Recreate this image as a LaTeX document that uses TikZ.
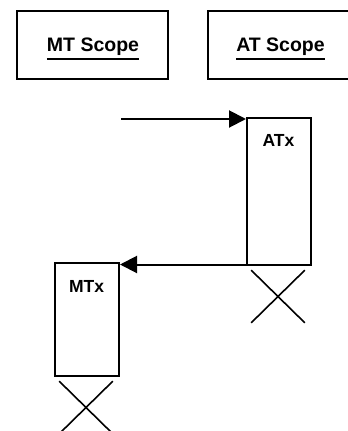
\documentclass[tikz,border=0pt]{standalone}
\usepackage{fontspec}
\setmainfont{Liberation Sans}
\usetikzlibrary{arrows.meta,shapes.misc}
\tikzset{
  scopebox/.style={draw, line width=2pt, minimum width=151pt, minimum height=68pt, inner sep=0pt},
  scopetext/.style={inner sep=0pt, anchor=base, font=\fontsize{19.5}{23}\selectfont\bfseries},
  lifebox/.style={draw, line width=2pt, minimum width=64pt, inner sep=0pt},
  lifetext/.style={inner sep=0pt, anchor=base, font=\fontsize{17.5}{21}\selectfont\bfseries},
  ulbar/.style={line width=2pt},
  msg/.style={line width=2pt, -{Triangle[length=17pt,width=17pt]}},
  endx/.style={cross out, draw, line width=1.6pt, minimum width=52pt, minimum height=51pt, inner sep=0pt}
}
\begin{document}
\begin{tikzpicture}[x=1pt,y=-1pt]
\useasboundingbox (0,0) rectangle (348,431);
% scope boxes
\node[scopebox] (mtscope) at (92,44.5) {};
\node[scopebox] (atscope) at (283,44.5) {};
\node[scopetext] (mtlabel) at (93,51.7) {MT Scope};
\node[scopetext] (atlabel) at (280.5,51.7) {AT Scope};
\draw[ulbar] ([yshift=-7pt]mtlabel.base west) -- ([yshift=-7pt]mtlabel.base east);
\draw[ulbar] ([yshift=-7pt]atlabel.base west) -- ([yshift=-7pt]atlabel.base east);
% lifelines
\node[lifebox, minimum height=147pt] (ATx) at (279,191.5) {};
\node[lifetext] (atxlabel) at (278.5,146.7) {ATx};
\node[lifebox, minimum height=113pt] (MTx) at (87,319.5) {};
\node[lifetext] (mtxlabel) at (86.5,292.7) {MTx};
% destruction marks
\node[endx] (atxend) at (278,296.5) {};
\node[endx] (mtxend) at (86,407.5) {};
% messages
\coordinate (start) at (121,119);
\draw[msg] (start) -- (start -| ATx.west);
\draw[msg] ([yshift=1.5pt]ATx.south west) -- ([yshift=1.5pt]ATx.south west -| MTx.east);
\end{tikzpicture}
\end{document}
